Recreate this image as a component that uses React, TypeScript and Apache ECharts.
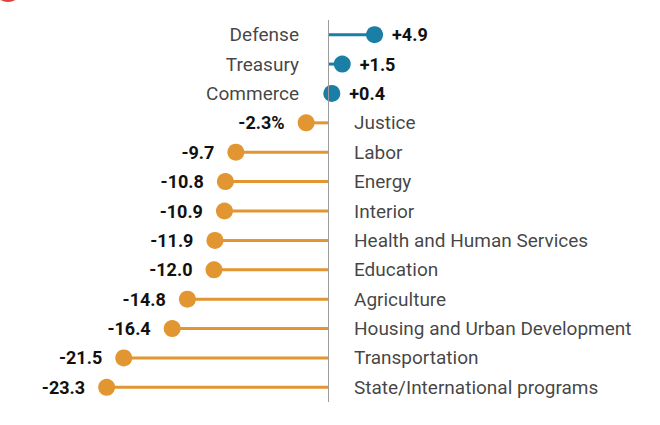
import React, { useEffect, useRef } from "react";
import * as echarts from "echarts";

const categories = [
  "Defense",
  "Treasury",
  "Commerce",
  "Justice",
  "Labor",
  "Energy",
  "Interior",
  "Health and Human Services",
  "Education",
  "Agriculture",
  "Housing and Urban Development",
  "Transportation",
  "State/International programs",
];
const values = [4.9, 1.5, 0.4, -2.3, -9.7, -10.8, -10.9, -11.9, -12.0, -14.8, -16.4, -21.5, -23.3];
const valueLabels = ["+4.9", "+1.5", "+0.4", "-2.3%", "-9.7", "-10.8", "-10.9", "-11.9", "-12.0", "-14.8", "-16.4", "-21.5", "-23.3"];

const BLUE = "#1b7ea6";
const ORANGE = "#e29631";
const TEXT = "#111111";
const FONT = "Roboto, 'Noto Sans', sans-serif";

export default function App() {
  const ref = useRef<HTMLDivElement>(null);
  useEffect(() => {
    if (!ref.current) return;
    const chart = echarts.init(ref.current, null, { renderer: "svg" });
    const colorOf = (v: number) => (v >= 0 ? BLUE : ORANGE);
    chart.setOption({
      animation: false,
      backgroundColor: "#ffffff",
      grid: { left: 100, right: 275, top: 20, bottom: 23 },
      xAxis: { type: "value", min: -24, max: 6, show: false },
      yAxis: {
        type: "category",
        data: categories,
        inverse: true,
        axisLine: { show: false },
        axisTick: { show: false },
        axisLabel: { show: false },
        splitLine: { show: false },
      },
      graphic: [
        { type: "circle", shape: { cx: 8, cy: -13, r: 15 }, style: { fill: "#e0403a" } },
      ],
      series: [
        {
          type: "bar",
          name: "stem",
          barWidth: 3,
          data: values.map((v) => ({ value: v, itemStyle: { color: colorOf(v) } })),
          markLine: {
            silent: true,
            symbol: "none",
            label: { show: false },
            lineStyle: { color: "#9c9c9c", width: 1, type: "solid" },
            data: [{ xAxis: 0 }],
          },
          z: 2,
        },
        {
          type: "scatter",
          name: "dot",
          symbolSize: 17,
          data: values.map((v, i) => ({
            value: [v, categories[i]],
            itemStyle: { color: colorOf(v), opacity: 1 },
            label: {
              show: true,
              position: v >= 0 ? "right" : "left",
              distance: v >= 0 ? 9 : 13,
              formatter: valueLabels[i],
              fontWeight: "bold",
              fontSize: 18,
              color: TEXT,
              fontFamily: FONT,
            },
          })),
          z: 3,
        },
        {
          type: "scatter",
          name: "names",
          symbolSize: 0,
          data: values.map((v, i) => ({
            value: [0, categories[i]],
            label: {
              show: true,
              position: v >= 0 ? "left" : "right",
              distance: v >= 0 ? 29 : 26,
              formatter: categories[i],
              fontSize: 19,
              color: TEXT,
              fontFamily: FONT,
            },
          })),
          z: 4,
        },
      ],
    });
    return () => chart.dispose();
  }, []);
  return (
    <div
      ref={ref}
      style={{ position: "fixed", left: 0, top: 0, width: 660, height: 425, background: "#fff" }}
    />
  );
}
